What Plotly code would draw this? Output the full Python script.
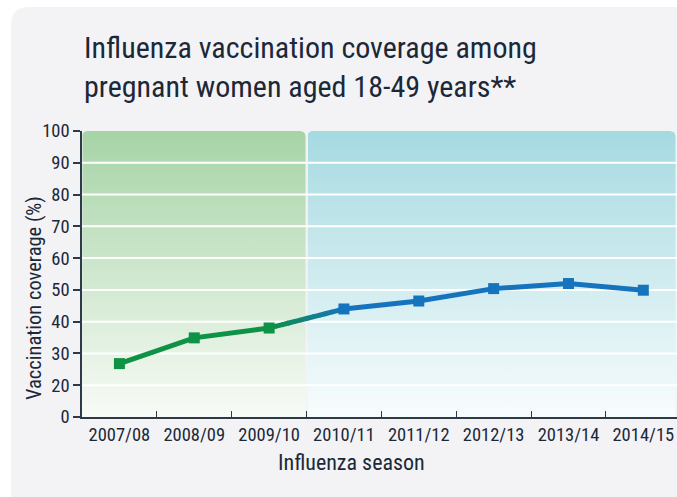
import numpy as np
import plotly.graph_objects as go

seasons = ["2007/08", "2008/09", "2009/10", "2010/11", "2011/12", "2012/13", "2013/14", "2014/15"]
coverage = [26.8, 34.9, 38.0, 44.0, 46.5, 50.4, 52.0, 49.9]
ytick_vals = [10, 20, 30, 40, 50, 60, 70, 80, 90, 100]
ytick_text = ["0", "20", "30", "40", "50", "60", "70", "80", "90", "100"]
n_green = 3  # first three seasons drawn in green

FONT = "Liberation Sans Narrow, Roboto Condensed, Arial Narrow, Liberation Sans, sans-serif"
TXT = "#1b2838"
AX = "#2e3a48"
GREEN = (14, 146, 70)
BLUE = (21, 116, 189)

def rgb(c):
    return "rgb(%d,%d,%d)" % c

x = np.arange(len(seasons))
XMIN, XMAX = -0.5, 7.45
YMIN, YMAX = 10, 100

fig = go.Figure()

# gradient panels with rounded top corners
def panel(x0, x1, top_col, bot_col):
    rx, ry = 0.07, 1.6
    t = np.linspace(0, np.pi / 2, 8)
    xs = [x0]
    ys = [YMIN]
    xs += list(x0 + rx - rx * np.cos(t))
    ys += list(YMAX - ry + ry * np.sin(t))
    xs += list(x1 - rx + rx * np.sin(t))
    ys += list(YMAX - ry + ry * np.cos(t))
    xs += [x1, x0]
    ys += [YMIN, YMIN]
    fig.add_trace(go.Scatter(
        x=xs, y=ys, mode="lines", line=dict(width=0), fill="toself",
        fillgradient=dict(type="vertical", start=YMIN, stop=YMAX,
                          colorscale=[[0, bot_col], [1, top_col]]),
        hoverinfo="skip", showlegend=False))

boundary = n_green - 0.5
gap = 0.013
panel(XMIN, boundary - gap, "rgb(166,212,166)", "rgb(248,251,246)")
panel(boundary + gap, 7.43, "rgb(165,218,225)", "rgb(248,252,253)")

# white gridlines above panels
for v in ytick_vals[1:-1]:
    fig.add_trace(go.Scatter(x=[XMIN, XMAX], y=[v, v], mode="lines",
                             line=dict(color="white", width=2),
                             hoverinfo="skip", showlegend=False))

# green segment
fig.add_trace(go.Scatter(x=x[:n_green], y=coverage[:n_green], mode="lines",
                         line=dict(color=rgb(GREEN), width=5), showlegend=False))
# transition green->blue
nseg = 12
xa, xb = x[n_green - 1], x[n_green]
ya, yb = coverage[n_green - 1], coverage[n_green]
for i in range(nseg):
    f0, f1 = i / nseg, min(1.0, (i + 1.15) / nseg)
    fm = (i + 0.5) / nseg
    col = tuple(int(GREEN[k] + (BLUE[k] - GREEN[k]) * fm) for k in range(3))
    fig.add_trace(go.Scatter(x=[xa + (xb - xa) * f0, xa + (xb - xa) * f1],
                             y=[ya + (yb - ya) * f0, ya + (yb - ya) * f1],
                             mode="lines", line=dict(color=rgb(col), width=5),
                             hoverinfo="skip", showlegend=False))
# blue segment
fig.add_trace(go.Scatter(x=x[n_green:], y=coverage[n_green:], mode="lines",
                         line=dict(color=rgb(BLUE), width=5), showlegend=False))
# markers
fig.add_trace(go.Scatter(x=x[:n_green], y=coverage[:n_green], mode="markers",
                         marker=dict(symbol="square", size=11, color=rgb(GREEN)),
                         showlegend=False))
fig.add_trace(go.Scatter(x=x[n_green:], y=coverage[n_green:], mode="markers",
                         marker=dict(symbol="square", size=11, color=rgb(BLUE)),
                         showlegend=False))

L, T, B = 82, 131, 80
W, H = 677, 497
pw, ph = W - L, H - T - B

def px(xp):
    return (xp - L) / pw

def py(yp):
    return (H - B - yp) / ph

# card background with rounded top-left corner
cx0, cy0, r = 11, 7, 18
fig.add_shape(type="path", xref="paper", yref="paper", layer="below",
              path="M %f,%f L %f,%f Q %f,%f %f,%f L %f,%f L %f,%f Z" % (
                  px(cx0), py(H + 10), px(cx0), py(cy0 + r), px(cx0), py(cy0),
                  px(cx0 + r), py(cy0), px(W + 10), py(cy0), px(W + 10), py(H + 10)),
              fillcolor="#f3f3f6", line=dict(width=0))

fig.update_layout(
    width=W, height=H,
    margin=dict(l=L, r=0, t=T, b=B),
    paper_bgcolor="white", plot_bgcolor="white",
    font=dict(family=FONT, color=TXT),
    xaxis=dict(range=[XMIN, XMAX], tickmode="array", tickvals=list(x), ticktext=seasons,
               ticks="", showgrid=False, zeroline=False, showline=True,
               linecolor=AX, linewidth=1.5, tickfont=dict(size=18.5, color=TXT, family=FONT),
               minor=dict(tickmode="array", tickvals=[i + 0.5 for i in range(len(seasons) - 1)],
                          ticks="inside", ticklen=6, tickwidth=1.3, tickcolor=AX, showgrid=False)),
    yaxis=dict(range=[YMIN, YMAX], tickmode="array", tickvals=ytick_vals, ticktext=ytick_text,
               ticks="outside", ticklen=7, tickwidth=1.5, tickcolor=AX,
               showgrid=False, zeroline=False, showline=True, linecolor=AX, linewidth=1.5,
               tickfont=dict(size=18.5, color=TXT, family=FONT)),
    annotations=[
        dict(text="Influenza vaccination coverage among<br>pregnant women aged 18-49 years**",
             xref="paper", yref="paper", x=px(82), y=py(67), xanchor="left", yanchor="middle",
             align="left", showarrow=False, font=dict(size=30, color=TXT, family=FONT)),
        dict(text="Vaccination coverage (%)", xref="paper", yref="paper",
             x=px(34), y=py(298), textangle=-90, xanchor="center", yanchor="middle",
             showarrow=False, font=dict(size=20.5, color=TXT, family=FONT)),
        dict(text="Influenza season", xref="paper", yref="paper",
             x=px(351), y=py(462), xanchor="center", yanchor="middle",
             showarrow=False, font=dict(size=22, color=TXT, family=FONT)),
    ],
)

fig.write_html("out.html", config={"displayModeBar": False},
               post_script="document.body.style.margin='0px';")
